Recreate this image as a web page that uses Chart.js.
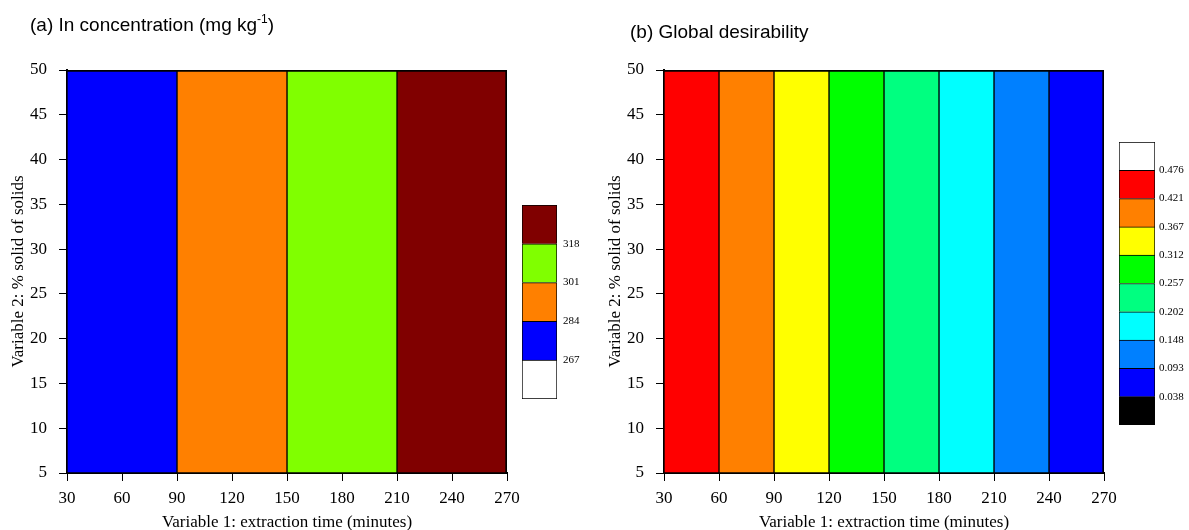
<!DOCTYPE html>
<html>
<head>
<meta charset="utf-8">
<title>In concentration and global desirability</title>
<script src="https://cdn.jsdelivr.net/npm/chart.js@4.4.1/dist/chart.umd.min.js"></script>
<style>
  html, body { margin: 0; padding: 0; background: #fff; }
  #wrap { position: relative; width: 1189px; height: 530px; overflow: hidden; background: #fff; }
  canvas { position: absolute; }
</style>
</head>
<body>
<div id="wrap">
  <canvas id="panelA" width="540" height="530" style="left:0px;top:0px"></canvas>
  <canvas id="keyA" width="60" height="224" style="left:522px;top:190px"></canvas>
  <canvas id="panelB" width="540" height="530" style="left:597px;top:0px"></canvas>
  <canvas id="keyB" width="70" height="313" style="left:1119px;top:127px"></canvas>
</div>
<script>
// ---- data ---------------------------------------------------------------
// Variable 1 (extraction time, min): boundaries of the contour regions
const timeEdgesIn = [30, 90, 150, 210, 270];
// contour class of each region (0 = below the first level)
const classIn = [1, 2, 3, 4];
// contour levels of the In concentration (mg/kg)
const levelsIn = [267, 284, 301, 318];

const timeEdgesD = [30, 60, 90, 120, 150, 180, 210, 240, 270];
const classD = [8, 7, 6, 5, 4, 3, 2, 1];
const levelsD = [0.038, 0.093, 0.148, 0.202, 0.257, 0.312, 0.367, 0.421, 0.476];

// Variable 2 (% solids) range of the design
const solidsRange = [5, 50];

// axis tick labels
const timeTicks = [30, 60, 90, 120, 150, 180, 210, 240, 270];
const solidsTicks = [5, 10, 15, 20, 25, 30, 35, 40, 45, 50];

// ---- colour maps (class 0 .. n) ----------------------------------------
const paletteIn = ['#FFFFFF', '#0000FF', '#FF8000', '#80FF00', '#800000'];
const paletteD = ['#000000', '#0000FF', '#0080FF', '#00FFFF', '#00FF80',
                  '#00FF00', '#FFFF00', '#FF8000', '#FF0000', '#FFFFFF'];

const SERIF = '"Liberation Serif", "Times New Roman", Times, serif';
const SANS = '"Liberation Sans", Arial, Helvetica, sans-serif';

// panel heading drawn above the plot area, with optional superscript
const panelTitle = {
  id: 'panelTitle',
  afterDraw(chart, args, opts) {
    const { ctx, chartArea } = chart;
    ctx.save();
    ctx.fillStyle = '#000';
    ctx.textBaseline = 'middle';
    ctx.textAlign = 'left';
    let x = chartArea.left + opts.dx;
    const y = chartArea.top + opts.dy;
    ctx.font = '19px ' + SANS;
    ctx.fillText(opts.text, x, y);
    if (opts.sup) {
      x += ctx.measureText(opts.text).width;
      ctx.font = '12px ' + SANS;
      ctx.fillText(opts.sup, x, y - 6);
      x += ctx.measureText(opts.sup).width;
      ctx.font = '19px ' + SANS;
      ctx.fillText(opts.tail, x, y);
    }
    ctx.restore();
  }
};

function fixedTicks(values) {
  return function (scale) {
    scale.ticks = values.map(v => ({ value: v }));
  };
}

function makePanel(id, edges, classes, palette, heading) {
  const n = classes.length;
  const datasets = classes.map((c, i) => ({
    data: [[edges[i], edges[i + 1]]],
    backgroundColor: palette[c],
    borderColor: '#000',
    borderWidth: { top: 2, bottom: 1, left: 1, right: i === n - 1 ? 2 : 1 },
    borderSkipped: false,
    yAxisID: 'band',
    grouped: false,
    barPercentage: 1,
    categoryPercentage: 1
  }));

  return new Chart(document.getElementById(id), {
    type: 'bar',
    data: { labels: [''], datasets },
    plugins: [panelTitle],
    options: {
      indexAxis: 'y',
      responsive: false,
      animation: false,
      events: [],
      layout: { padding: { top: 70, right: 33, left: 0, bottom: 0 } },
      plugins: {
        legend: { display: false },
        tooltip: { enabled: false },
        panelTitle: heading
      },
      scales: {
        band: {
          type: 'category', axis: 'y', position: 'left',
          display: false, offset: true
        },
        x: {
          type: 'linear', position: 'bottom', offset: false,
          min: edges[0], max: edges[edges.length - 1],
          afterBuildTicks: fixedTicks(timeTicks),
          afterFit(scale) { scale.height = 57; },
          ticks: { color: '#000', font: { family: SERIF, size: 17 }, padding: 7, maxRotation: 0 },
          grid: { offset: false, drawOnChartArea: false, drawTicks: true, tickLength: 8, color: '#000', tickWidth: 1 },
          border: { display: true, color: '#000', width: 2 },
          title: {
            display: true, text: 'Variable 1: extraction time (minutes)',
            color: '#000', font: { family: SERIF, size: 17 }, padding: { top: 0, bottom: -3 }
          }
        },
        y: {
          type: 'linear', position: 'left', offset: false,
          min: solidsRange[0], max: solidsRange[1],
          afterBuildTicks: fixedTicks(solidsTicks),
          afterFit(scale) { scale.width = 67; },
          ticks: { color: '#000', font: { family: SERIF, size: 17 }, padding: 12 },
          grid: { offset: false, drawOnChartArea: false, drawTicks: true, tickLength: 8, color: '#000', tickWidth: 1 },
          border: { display: true, color: '#000', width: 2 },
          title: {
            display: true, text: 'Variable 2: % solid of solids',
            color: '#000', font: { family: SERIF, size: 17 }, padding: { top: 8, bottom: 0 }
          }
        }
      }
    }
  });
}

function makeKey(id, palette, levels, digits, labelWidth, labelPad) {
  const n = palette.length;
  const datasets = palette.map((col, i) => ({
    data: [[i, i + 1]],
    backgroundColor: col,
    borderColor: '#000',
    borderWidth: { top: 1, left: 1, right: 1, bottom: i === 0 ? 1 : 0 },
    borderSkipped: false,
    grouped: false,
    barPercentage: 1,
    categoryPercentage: 1
  }));

  return new Chart(document.getElementById(id), {
    type: 'bar',
    data: { labels: [''], datasets },
    options: {
      responsive: false,
      animation: false,
      events: [],
      layout: { padding: { top: 15, bottom: 15, left: 0, right: 0 } },
      plugins: { legend: { display: false }, tooltip: { enabled: false } },
      scales: {
        x: { type: 'category', display: false, offset: true },
        y: {
          type: 'linear', position: 'right', min: 0, max: n,
          afterBuildTicks(scale) {
            scale.ticks = levels.map((v, i) => ({ value: i + 1 }));
          },
          afterFit(scale) { scale.width = labelWidth; },
          ticks: {
            color: '#000', font: { family: SERIF, size: 11 }, padding: labelPad,
            callback(value) {
              const lv = levels[value - 1];
              return lv === undefined ? null : lv.toFixed(digits);
            }
          },
          grid: { display: false, drawTicks: false },
          border: { display: false }
        }
      }
    }
  });
}

makePanel('panelA', timeEdgesIn, classIn, paletteIn, {
  text: '(a) In concentration (mg kg', sup: '-1', tail: ')', dx: -37, dy: -44
});
makeKey('keyA', paletteIn, levelsIn, 0, 25, 6);

makePanel('panelB', timeEdgesD, classD, paletteD, {
  text: '(b) Global desirability', dx: -34, dy: -37
});
makeKey('keyB', paletteD, levelsD, 3, 34, 4);
</script>
</body>
</html>
